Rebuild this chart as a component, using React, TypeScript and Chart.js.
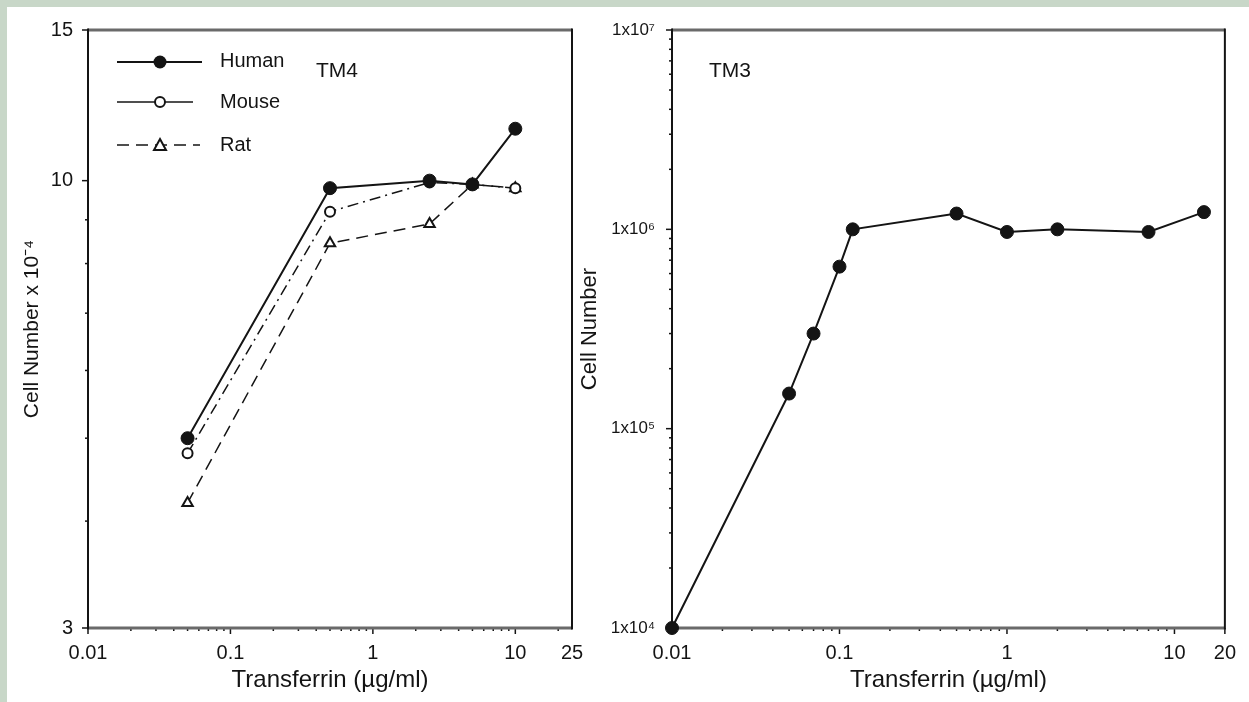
import { useEffect, useRef } from 'react';
import { Chart, registerables } from 'chart.js';

Chart.register(...registerables);

const FONT = '"Liberation Sans", Arial, Helvetica, sans-serif';
const INK = '#141414';
const AXIS_GREY = '#6a6a6a';

// ---- Left panel (TM4) ----
const tm4Dose = [0.05, 0.5, 2.5, 5, 10];
const humanCells = [5.0, 9.8, 10.0, 9.9, 11.5];
const mouseCells = [4.8, 9.2, 9.95, 9.9, 9.8];
const ratCells = [4.2, 8.45, 8.9, 9.9, 9.8];
const tm4XTicks = [0.01, 0.1, 1, 10, 25];
const tm4XLabels = ['0.01', '0.1', '1', '10', '25'];
const tm4YTicks = [3, 10, 15];
const tm4YLabels = ['3', '10', '15'];
const tm4YMinor = [4, 5, 6, 7, 8, 9];

// ---- Right panel (TM3) ----
const tm3Dose = [0.01, 0.05, 0.07, 0.1, 0.12, 0.5, 1, 2, 7, 15];
const tm3Cells = [1e4, 1.5e5, 3.0e5, 6.5e5, 1.0e6, 1.2e6, 0.97e6, 1.0e6, 0.97e6, 1.22e6];
const tm3XTicks = [0.01, 0.1, 1, 10, 20];
const tm3XLabels = ['0.01', '0.1', '1', '10', '20'];
const tm3YTicks = [1e4, 1e5, 1e6, 1e7];
const tm3YLabels = ['1x10\u2074', '1x10\u2075', '1x10\u2076', '1x10\u2077'];

function decadeMinors(min: number, max: number) {
  const out: number[] = [];
  for (let e = Math.floor(Math.log10(min)); e <= Math.ceil(Math.log10(max)); e++) {
    for (let k = 1; k <= 9; k++) {
      const v = k * Math.pow(10, e);
      if (v >= min * 0.999 && v <= max * 1.001) out.push(v);
    }
  }
  return out;
}

const framePlugin = {
  id: 'frame',
  beforeDatasetsDraw(chart: any, _args: any, opts: any) {
    const { ctx, chartArea } = chart;
    const { left, right, top, bottom } = chartArea;
    const xs = chart.scales.x;
    const ys = chart.scales.y;
    ctx.save();
    ctx.strokeStyle = INK;
    ctx.lineWidth = 1.5;
    for (const v of opts.xMinor) {
      const px = xs.getPixelForValue(v);
      const len = opts.xMajor.includes(v) ? 6 : 3;
      ctx.beginPath();
      ctx.moveTo(px, bottom);
      ctx.lineTo(px, bottom + len);
      ctx.stroke();
    }
    for (const v of opts.yMinor) {
      const py = ys.getPixelForValue(v);
      const len = opts.yMajor.includes(v) ? 6 : 3;
      ctx.beginPath();
      ctx.moveTo(left, py);
      ctx.lineTo(left - len, py);
      ctx.stroke();
    }
    // frame
    ctx.strokeStyle = AXIS_GREY;
    ctx.lineWidth = 3;
    ctx.beginPath();
    ctx.moveTo(left, top);
    ctx.lineTo(right, top);
    ctx.moveTo(left, bottom);
    ctx.lineTo(right, bottom);
    ctx.stroke();
    ctx.strokeStyle = INK;
    ctx.lineWidth = 2;
    ctx.beginPath();
    ctx.moveTo(left, top - 1.5);
    ctx.lineTo(left, bottom + 1.5);
    ctx.moveTo(right, top - 1.5);
    ctx.lineTo(right, bottom + 1.5);
    ctx.stroke();
    ctx.restore();
  },
  afterDraw(chart: any, _args: any, opts: any) {
    const { ctx } = chart;
    ctx.save();
    ctx.fillStyle = INK;
    ctx.font = `21px ${FONT}`;
    ctx.textBaseline = 'middle';
    ctx.textAlign = 'left';
    ctx.fillText(opts.label, opts.labelX, opts.labelY);
    if (opts.legend) {
      ctx.strokeStyle = INK;
      ctx.font = `20px ${FONT}`;
      // Human
      ctx.lineWidth = 2;
      ctx.setLineDash([]);
      ctx.beginPath();
      ctx.moveTo(117, 62);
      ctx.lineTo(202, 62);
      ctx.stroke();
      ctx.beginPath();
      ctx.arc(160, 62, 6.5, 0, Math.PI * 2);
      ctx.fill();
      ctx.fillText('Human', 220, 61);
      // Mouse
      ctx.lineWidth = 1.5;
      ctx.beginPath();
      ctx.moveTo(117, 102);
      ctx.lineTo(193, 102);
      ctx.stroke();
      ctx.beginPath();
      ctx.arc(160, 102, 5, 0, Math.PI * 2);
      ctx.fillStyle = '#fff';
      ctx.fill();
      ctx.lineWidth = 2;
      ctx.stroke();
      ctx.fillStyle = INK;
      ctx.fillText('Mouse', 220, 102);
      // Rat
      ctx.lineWidth = 1.5;
      ctx.setLineDash([12, 7]);
      ctx.beginPath();
      ctx.moveTo(117, 145);
      ctx.lineTo(200, 145);
      ctx.stroke();
      ctx.setLineDash([]);
      ctx.beginPath();
      ctx.moveTo(160, 139);
      ctx.lineTo(166, 150);
      ctx.lineTo(154, 150);
      ctx.closePath();
      ctx.fillStyle = '#fff';
      ctx.fill();
      ctx.lineWidth = 2;
      ctx.stroke();
      ctx.fillStyle = INK;
      ctx.fillText('Rat', 220, 145);
    }
    ctx.restore();
  },
};

function pts(xs: number[], ys: number[]) {
  return xs.map((x, i) => ({ x, y: ys[i] }));
}

function baseScales(cfg: any) {
  return {
    x: {
      type: 'logarithmic',
      min: cfg.xMin,
      max: cfg.xMax,
      afterFit(s: any) { s.height = 74; },
      afterBuildTicks(s: any) { s.ticks = cfg.xTicks.map((v: number) => ({ value: v })); },
      ticks: {
        autoSkip: false,
        maxRotation: 0,
        padding: 13,
        color: INK,
        font: { family: FONT, size: 20 },
        callback: (v: number) => {
          const i = cfg.xTicks.findIndex((t: number) => Math.abs(t - v) / t < 1e-6);
          return i >= 0 ? cfg.xLabels[i] : '';
        },
      },
      grid: { display: false, drawTicks: false },
      border: { display: false },
      title: {
        display: true,
        text: 'Transferrin (\u00b5g/ml)',
        color: INK,
        font: { family: FONT, size: 24 },
        padding: { top: 0, bottom: 7 },
      },
    },
    y: {
      type: 'logarithmic',
      min: cfg.yMin,
      max: cfg.yMax,
      afterFit(s: any) { s.width = cfg.yWidth; },
      afterBuildTicks(s: any) { s.ticks = cfg.yTicks.map((v: number) => ({ value: v })); },
      ticks: {
        autoSkip: false,
        padding: cfg.yPad,
        color: INK,
        font: { family: FONT, size: cfg.yTickSize },
        callback: (v: number) => {
          const i = cfg.yTicks.findIndex((t: number) => Math.abs(t - v) / t < 1e-6);
          return i >= 0 ? cfg.yLabels[i] : '';
        },
      },
      grid: { display: false, drawTicks: false },
      border: { display: false },
      title: {
        display: true,
        text: cfg.yTitle,
        color: INK,
        font: { family: FONT, size: cfg.yTitleSize },
        padding: { top: cfg.yTitlePad, bottom: 0 },
      },
    },
  };
}

export default function App() {
  const leftRef = useRef<HTMLCanvasElement>(null);
  const rightRef = useRef<HTMLCanvasElement>(null);

  useEffect(() => {
    const left = new Chart(leftRef.current as HTMLCanvasElement, {
      type: 'line',
      data: {
        datasets: [
          {
            label: 'Human',
            data: pts(tm4Dose, humanCells),
            borderColor: INK,
            borderWidth: 2,
            pointRadius: 6.5,
            pointBackgroundColor: INK,
            pointBorderColor: INK,
            pointBorderWidth: 1,
            clip: false,
          },
          {
            label: 'Mouse',
            data: pts(tm4Dose, mouseCells),
            borderColor: INK,
            borderWidth: 1.5,
            borderDash: [11, 5, 2, 5],
            pointRadius: 5,
            pointBackgroundColor: '#fff',
            pointBorderColor: INK,
            pointBorderWidth: 2,
            clip: false,
          },
          {
            label: 'Rat',
            data: pts(tm4Dose, ratCells),
            borderColor: INK,
            borderWidth: 1.5,
            borderDash: [12, 7],
            pointStyle: 'triangle',
            pointRadius: 6,
            pointBackgroundColor: '#fff',
            pointBorderColor: INK,
            pointBorderWidth: 2,
            clip: false,
          },
        ],
      },
      options: {
        animation: false,
        responsive: false,
        devicePixelRatio: 1,
        events: [],
        layout: { padding: { left: 0, top: 30, right: 28, bottom: 0 } },
        plugins: {
          legend: { display: false },
          tooltip: { enabled: false },
          frame: {
            xMinor: decadeMinors(0.01, 25),
            xMajor: tm4XTicks,
            yMinor: [...tm4YTicks, ...tm4YMinor],
            yMajor: tm4YTicks,
            label: 'TM4',
            labelX: 316,
            labelY: 71,
            legend: true,
          },
        } as any,
        scales: baseScales({
          xMin: 0.01, xMax: 25, xTicks: tm4XTicks, xLabels: tm4XLabels,
          yMin: 3, yMax: 15, yTicks: tm4YTicks, yLabels: tm4YLabels,
          yWidth: 88, yPad: 15, yTickSize: 20,
          yTitle: 'Cell Number x 10\u207b\u2074', yTitleSize: 21, yTitlePad: 20,
        }) as any,
      },
      plugins: [framePlugin],
    });

    const right = new Chart(rightRef.current as HTMLCanvasElement, {
      type: 'line',
      data: {
        datasets: [
          {
            label: 'TM3',
            data: pts(tm3Dose, tm3Cells),
            borderColor: INK,
            borderWidth: 2,
            pointRadius: 6.5,
            pointBackgroundColor: INK,
            pointBorderColor: INK,
            pointBorderWidth: 1,
            clip: false,
          },
        ],
      },
      options: {
        animation: false,
        responsive: false,
        devicePixelRatio: 1,
        events: [],
        layout: { padding: { left: 0, top: 30, right: 22, bottom: 0 } },
        plugins: {
          legend: { display: false },
          tooltip: { enabled: false },
          frame: {
            xMinor: decadeMinors(0.01, 20),
            xMajor: tm3XTicks,
            yMinor: decadeMinors(1e4, 1e7),
            yMajor: tm3YTicks,
            label: 'TM3',
            labelX: 133,
            labelY: 71,
            legend: false,
          },
        } as any,
        scales: baseScales({
          xMin: 0.01, xMax: 20, xTicks: tm3XTicks, xLabels: tm3XLabels,
          yMin: 1e4, yMax: 1e7, yTicks: tm3YTicks, yLabels: tm3YLabels,
          yWidth: 96, yPad: 17, yTickSize: 17,
          yTitle: 'Cell Number', yTitleSize: 22, yTitlePad: 1,
        }) as any,
      },
      plugins: [framePlugin],
    });

    return () => {
      left.destroy();
      right.destroy();
    };
  }, []);

  return (
    <div style={{ position: 'fixed', left: 0, top: 0, width: 1249, height: 702, background: '#c8d7c8', overflow: 'hidden' }}>
      <div style={{ position: 'absolute', left: 7, top: 7, width: 1242, height: 695, background: '#ffffff' }} />
      <canvas ref={leftRef} width={600} height={702} style={{ position: 'absolute', left: 0, top: 0, width: 600, height: 702 }} />
      <canvas ref={rightRef} width={673} height={702} style={{ position: 'absolute', left: 576, top: 0, width: 673, height: 702 }} />
    </div>
  );
}
